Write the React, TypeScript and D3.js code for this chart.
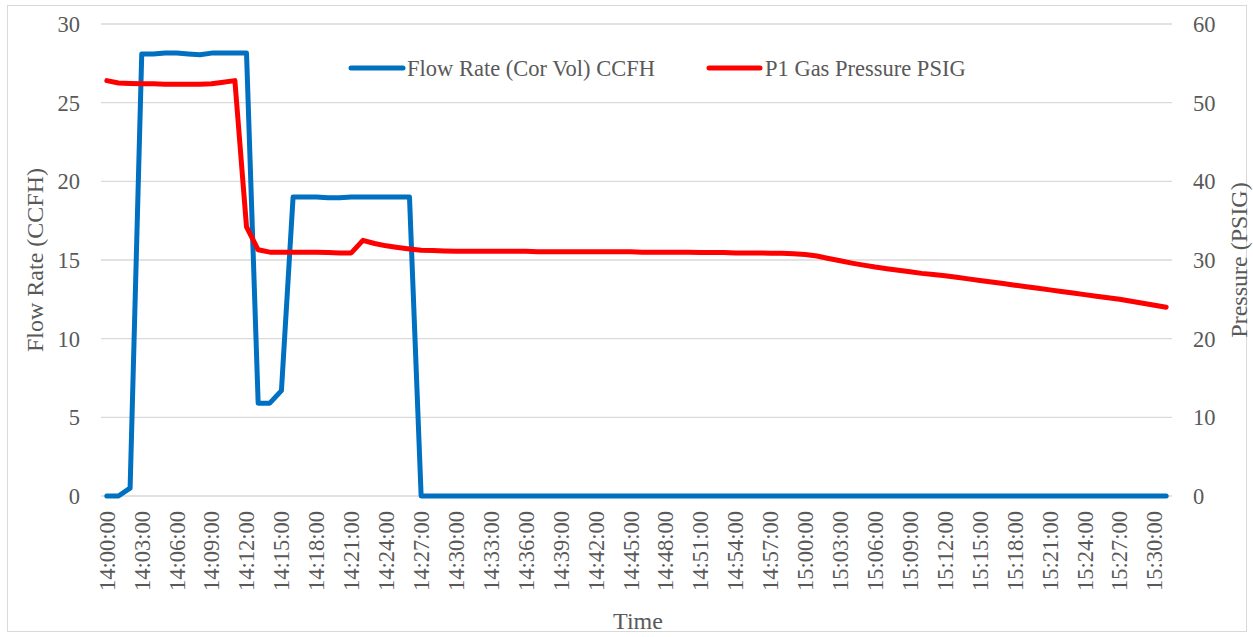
import React from "react";
import * as d3 from "d3";

// one sample per minute, 14:00:00 .. 15:31:00
const times = [
  "14:00:00", "14:01:00", "14:02:00", "14:03:00", "14:04:00", "14:05:00", "14:06:00", "14:07:00", "14:08:00", "14:09:00",
  "14:10:00", "14:11:00", "14:12:00", "14:13:00", "14:14:00", "14:15:00", "14:16:00", "14:17:00", "14:18:00", "14:19:00",
  "14:20:00", "14:21:00", "14:22:00", "14:23:00", "14:24:00", "14:25:00", "14:26:00", "14:27:00", "14:28:00", "14:29:00",
  "14:30:00", "14:31:00", "14:32:00", "14:33:00", "14:34:00", "14:35:00", "14:36:00", "14:37:00", "14:38:00", "14:39:00",
  "14:40:00", "14:41:00", "14:42:00", "14:43:00", "14:44:00", "14:45:00", "14:46:00", "14:47:00", "14:48:00", "14:49:00",
  "14:50:00", "14:51:00", "14:52:00", "14:53:00", "14:54:00", "14:55:00", "14:56:00", "14:57:00", "14:58:00", "14:59:00",
  "15:00:00", "15:01:00", "15:02:00", "15:03:00", "15:04:00", "15:05:00", "15:06:00", "15:07:00", "15:08:00", "15:09:00",
  "15:10:00", "15:11:00", "15:12:00", "15:13:00", "15:14:00", "15:15:00", "15:16:00", "15:17:00", "15:18:00", "15:19:00",
  "15:20:00", "15:21:00", "15:22:00", "15:23:00", "15:24:00", "15:25:00", "15:26:00", "15:27:00", "15:28:00", "15:29:00",
  "15:30:00", "15:31:00",
];

const timeTicks = [
  "14:00:00", "14:03:00", "14:06:00", "14:09:00", "14:12:00", "14:15:00", "14:18:00", "14:21:00",
  "14:24:00", "14:27:00", "14:30:00", "14:33:00", "14:36:00", "14:39:00", "14:42:00", "14:45:00",
  "14:48:00", "14:51:00", "14:54:00", "14:57:00", "15:00:00", "15:03:00", "15:06:00", "15:09:00",
  "15:12:00", "15:15:00", "15:18:00", "15:21:00", "15:24:00", "15:27:00", "15:30:00",
];

const flowRate = [
  0, 0, 0.5,
  28.1, 28.1, 28.15, 28.15, 28.1, 28.05, 28.15, 28.15, 28.15, 28.15,
  5.9, 5.9, 6.7,
  19.0, 19.0, 19.0, 18.95, 18.95, 19.0, 19.0, 19.0, 19.0, 19.0, 19.0,
  0, 0, 0, 0, 0, 0, 0, 0, 0, 0, 0, 0, 0, 0, 0, 0, 0, 0, 0, 0,
  0, 0, 0, 0, 0, 0, 0, 0, 0, 0, 0, 0, 0, 0, 0, 0, 0, 0, 0, 0,
  0, 0, 0, 0, 0, 0, 0, 0, 0, 0, 0, 0, 0, 0, 0, 0, 0, 0, 0, 0,
  0, 0, 0, 0, 0,
];

const pressure = [
  52.8, 52.5, 52.45, 52.4, 52.4, 52.35, 52.35, 52.35, 52.35, 52.4, 52.6, 52.8,
  34.2, 31.3, 31.0, 31.0, 31.0, 31.0, 31.0, 30.95, 30.9, 30.9,
  32.5, 32.1, 31.8, 31.6, 31.4, 31.25, 31.2, 31.15, 31.1,
  31.1, 31.1, 31.1, 31.1, 31.1, 31.1, 31.05, 31.05, 31.05, 31.05,
  31.05, 31.05, 31.05, 31.05, 31.05, 31.0, 31.0, 31.0, 31.0, 31.0,
  30.95, 30.95, 30.95, 30.9, 30.9, 30.9, 30.85, 30.85, 30.8,
  30.7, 30.5, 30.2, 29.9, 29.6, 29.35, 29.1, 28.9, 28.7, 28.5,
  28.3, 28.15, 28.0, 27.8, 27.6, 27.4, 27.2, 27.0, 26.8, 26.6,
  26.4, 26.2, 26.0, 25.8, 25.6, 25.4, 25.2, 25.0, 24.75, 24.5,
  24.25, 24.0,
];

const flowTicks = [0, 5, 10, 15, 20, 25, 30];
const pressureTicks = [0, 10, 20, 30, 40, 50, 60];

const seriesNames = ["Flow Rate (Cor Vol) CCFH", "P1 Gas Pressure PSIG"];

const W = 1253;
const H = 637;
const plot = { left: 101, right: 1172, top: 24, bottom: 496 };
const BLUE = "#0070C0";
const RED = "#FF0000";
const TEXT = "#595959";
const GRID = "#d9d9d9";
const FONT = "Liberation Serif, Times New Roman, serif";

export default function App() {
  const x = d3.scalePoint<string>().domain(times).range([plot.left, plot.right]).padding(0.5);
  const yL = d3.scaleLinear().domain([0, 30]).range([plot.bottom, plot.top]);
  const yR = d3.scaleLinear().domain([0, 60]).range([plot.bottom, plot.top]);

  const flowLine = d3.line<number>()
    .x((_, i) => x(times[i]) as number)
    .y(d => yL(d));
  const pressLine = d3.line<number>()
    .x((_, i) => x(times[i]) as number)
    .y(d => yR(d));

  const legendY = 68;
  const txt = { fontFamily: FONT, fill: TEXT };

  return (
    <svg width={W} height={H} style={{ position: "fixed", left: 0, top: 0, background: "#fff" }}>
      <rect x={7.5} y={5.5} width={1239} height={626} fill="#fff" stroke={GRID} strokeWidth={1} />

      {/* gridlines */}
      {flowTicks.map(t => (
        <line key={t} x1={plot.left} x2={plot.right} y1={yL(t)} y2={yL(t)} stroke={GRID} strokeWidth={1.3} />
      ))}

      {/* left axis labels */}
      {flowTicks.map(t => (
        <text key={"l" + t} x={80} y={yL(t)} dy="0.35em" textAnchor="end" fontSize={22.5} {...txt}>{t}</text>
      ))}
      {/* right axis labels */}
      {pressureTicks.map(t => (
        <text key={"r" + t} x={1193} y={yR(t)} dy="0.35em" textAnchor="start" fontSize={22.5} {...txt}>{t}</text>
      ))}

      {/* x labels */}
      {timeTicks.map(t => (
        <text key={t} transform={`translate(${x(t)},511) rotate(-90)`} dy="0.35em" textAnchor="end" fontSize={22.5} {...txt}>{t}</text>
      ))}

      {/* axis titles */}
      <text x={638} y={621} dy="0.35em" textAnchor="middle" fontSize={24} {...txt}>Time</text>
      <text transform="translate(35,260) rotate(-90)" dy="0.35em" textAnchor="middle" fontSize={24} {...txt}>Flow Rate (CCFH)</text>
      <text transform="translate(1239,260) rotate(-90)" dy="0.35em" textAnchor="middle" fontSize={24} {...txt}>Pressure (PSIG)</text>

      {/* series */}
      <path d={flowLine(flowRate) || ""} fill="none" stroke={BLUE} strokeWidth={5} strokeLinejoin="round" strokeLinecap="round" />
      <path d={pressLine(pressure) || ""} fill="none" stroke={RED} strokeWidth={5} strokeLinejoin="round" strokeLinecap="round" />

      {/* legend */}
      <line x1={351} x2={403} y1={legendY} y2={legendY} stroke={BLUE} strokeWidth={5} strokeLinecap="round" />
      <text x={407} y={legendY} dy="0.35em" fontSize={22.5} {...txt}>{seriesNames[0]}</text>
      <line x1={709} x2={760} y1={legendY} y2={legendY} stroke={RED} strokeWidth={5} strokeLinecap="round" />
      <text x={765} y={legendY} dy="0.35em" fontSize={22.5} {...txt}>{seriesNames[1]}</text>
    </svg>
  );
}
